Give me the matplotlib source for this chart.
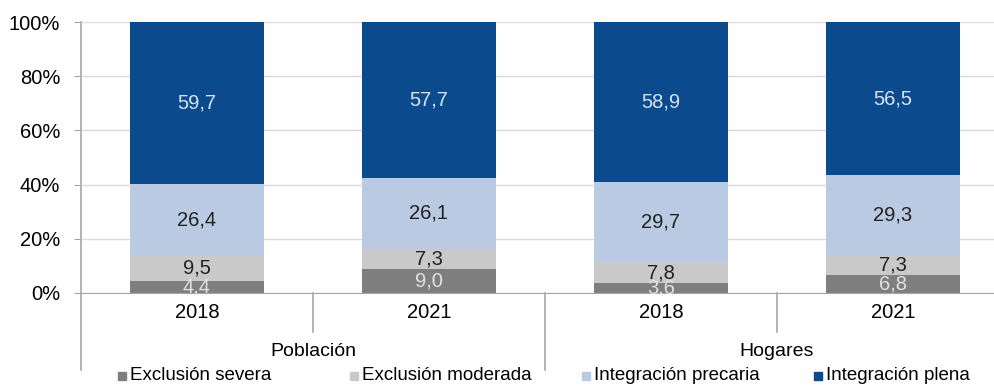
import matplotlib.pyplot as plt
from matplotlib.transforms import blended_transform_factory

plt.rcParams["font.family"] = ["Liberation Sans", "DejaVu Sans"]
plt.rcParams["font.size"] = 13.5

years = ["2018", "2021", "2018", "2021"]
groups = ["Población", "Hogares"]
series = ["Exclusión severa", "Exclusión moderada", "Integración precaria", "Integración plena"]
severa = [4.4, 9.0, 3.6, 6.8]
moderada = [9.5, 7.3, 7.8, 7.3]
precaria = [26.4, 26.1, 29.7, 29.3]
plena = [59.7, 57.7, 58.9, 56.5]

colors = ["#7f7f7f", "#c9c9c9", "#b9cae2", "#0b4a8c"]
label_colors = ["#e0e0e0", "#222222", "#222222", "#d6e4f4"]

fig = plt.figure(figsize=(9.95, 3.87), dpi=100)
ax = fig.add_axes([81 / 995, 94 / 387, 928 / 995, 271 / 387])

x = list(range(len(years)))
bottom = [0.0] * len(years)
for vals, col, lc in zip([severa, moderada, precaria, plena], colors, label_colors):
    ax.bar(x, vals, width=0.58, bottom=bottom, color=col, zorder=2)
    for xi, b, v in zip(x, bottom, vals):
        ax.text(xi, b + v / 2, f"{v:.1f}".replace(".", ","), ha="center", va="center",
                color=lc, fontsize=14.5, zorder=3)
    bottom = [b + v for b, v in zip(bottom, vals)]

ax.set_xlim(-0.5, 3.5)
ax.set_ylim(0, 100)
ax.set_yticks(range(0, 101, 20))
ax.set_yticklabels([f"{t}%" for t in range(0, 101, 20)], fontsize=14.5)
ax.yaxis.grid(True, color="#d9d9d9", linewidth=1, zorder=0)
ax.tick_params(axis="y", length=5, color="#a6a6a6", pad=10)
ax.set_xticks(x)
ax.set_xticklabels(years, fontsize=14.5)
ax.tick_params(axis="x", length=0, pad=7)

for s in ["top", "right", "left"]:
    ax.spines[s].set_visible(False)
ax.spines["bottom"].set_color("#a6a6a6")

trans = blended_transform_factory(ax.transData, ax.transAxes)
# category separators below the axis
for xs, low in [(-0.5, -0.284), (0.5, -0.144), (1.5, -0.284), (2.5, -0.144)]:
    top = 1.0 if xs == -0.5 else 0.0
    ax.plot([xs, xs], [top, low], color="#a6a6a6", linewidth=1.2,
            transform=trans, clip_on=False, zorder=1)

for gx, g in zip([0.5, 2.5], groups):
    ax.text(gx, -0.215, g, transform=trans, ha="center", va="center", fontsize=14)

# legend entries spaced like the categories
for i, (name, col) in enumerate(zip(series, colors)):
    ax.plot(i - 0.325, -0.306, marker="s", markersize=6, color=col,
            transform=trans, clip_on=False)
    ax.text(i - 0.29, -0.306, name, transform=trans, ha="left", va="center")

fig.savefig("out.png", dpi=100)
